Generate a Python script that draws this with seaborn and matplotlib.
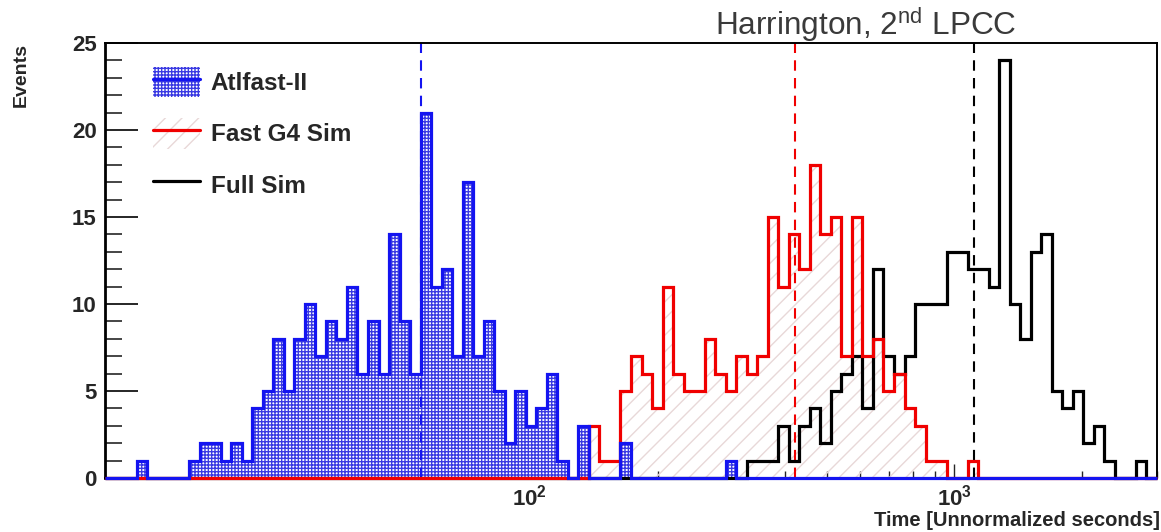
import numpy as np
import matplotlib
matplotlib.use("Agg")
import matplotlib.pyplot as plt
import seaborn as sns
from matplotlib.patches import Patch
from matplotlib.lines import Line2D
from matplotlib.ticker import LogLocator, NullFormatter, MultipleLocator

# ---------------- data ----------------
n_bins = 100
x_min, x_max = 10.0, 3000.0

atlfast = [0, 0, 0, 1, 0, 0, 0, 0, 1, 2,
           2, 1, 2, 1, 4, 5, 8, 5, 8, 10,
           7, 9, 8, 11, 6, 9, 6, 14, 9, 6,
           21, 11, 12, 7, 17, 7, 9, 5, 2, 5,
           3, 4, 6, 1, 0, 3, 0, 0, 0, 2,
           0, 0, 0, 0, 0, 0, 0, 0, 0, 1,
           0, 0, 0, 0, 0, 0, 0, 0, 0, 0,
           0, 0, 0, 0, 0, 0, 0, 0, 0, 0,
           0, 0, 0, 0, 0, 0, 0, 0, 0, 0,
           0, 0, 0, 0, 0, 0, 0, 0, 0, 0]

fastg4 = [0, 0, 0, 0, 0, 0, 0, 0, 0, 0,
          0, 0, 0, 0, 0, 0, 0, 0, 0, 0,
          0, 0, 0, 0, 0, 0, 0, 0, 0, 0,
          0, 0, 0, 0, 0, 0, 0, 0, 0, 0,
          0, 0, 0, 0, 0, 0, 3, 1, 1, 5,
          7, 6, 4, 11, 6, 5, 5, 8, 6, 5,
          7, 6, 7, 15, 11, 14, 12, 18, 14, 15,
          7, 15, 7, 8, 5, 6, 4, 3, 1, 1,
          0, 0, 1, 0, 0, 0, 0, 0, 0, 0,
          0, 0, 0, 0, 0, 0, 0, 0, 0, 0]

fullsim = [0, 0, 0, 0, 0, 0, 0, 0, 0, 0,
           0, 0, 0, 0, 0, 0, 0, 0, 0, 0,
           0, 0, 0, 0, 0, 0, 0, 0, 0, 0,
           0, 0, 0, 0, 0, 0, 0, 0, 0, 0,
           0, 0, 0, 0, 0, 0, 0, 0, 0, 0,
           0, 0, 0, 0, 0, 0, 0, 0, 0, 0,
           0, 1, 1, 1, 3, 1, 3, 4, 2, 5,
           6, 7, 4, 12, 7, 6, 7, 10, 10, 10,
           13, 13, 12, 12, 11, 24, 10, 8, 13, 14,
           5, 4, 5, 2, 3, 1, 0, 0, 1, 0]

series_names = ["Atlfast-II", "Fast G4 Sim", "Full Sim"]
series_means = [55.5, 422.0, 1110.0]
ytick_vals = [0, 5, 10, 15, 20, 25]
ytick_labels = ["0", "5", "10", "15", "20", "25"]
xtick_vals = [100, 1000]
xtick_labels = [r"$\mathbf{10^{2}}$", r"$\mathbf{10^{3}}$"]

# ---------------- style ----------------
sns.set_style("white")
plt.rcParams["font.family"] = ["Liberation Sans", "DejaVu Sans"]
plt.rcParams["mathtext.fontset"] = "custom"
plt.rcParams["mathtext.rm"] = "Liberation Sans"
plt.rcParams["mathtext.it"] = "Liberation Sans:italic"
plt.rcParams["mathtext.bf"] = "Liberation Sans:bold"
plt.rcParams["hatch.linewidth"] = 1.0

BLUE = "#1414f0"
RED = "#f00000"
BLACK = "#000000"
BLUE_HATCH = "#3a3ae2"
RED_HATCH = "#e8d8d8"

fig = plt.figure(figsize=(11.61, 5.32), dpi=100)
ax = fig.add_axes([105 / 1161, 54 / 532, 1052 / 1161, 435 / 532])

edges_log = list(np.linspace(np.log10(x_min), np.log10(x_max), n_bins + 1))
centers = 10 ** ((np.array(edges_log[:-1]) + np.array(edges_log[1:])) / 2)


def fill_hist(counts, face, hatch_color, hatch):
    sns.histplot(x=centers, weights=np.asarray(counts, float), bins=edges_log,
                 log_scale=True, element="step", fill=True, ax=ax,
                 color=hatch_color, linewidth=0)
    coll = ax.collections[-1]
    coll.set_alpha(None)
    coll.set_facecolor(face)
    coll.set_edgecolor(hatch_color)
    coll.set_linewidth(0)
    coll.set_hatch(hatch)
    coll.set_zorder(1)


def line_hist(counts, color, z):
    sns.histplot(x=centers, weights=np.asarray(counts, float), bins=edges_log,
                 log_scale=True, element="step", fill=False, ax=ax,
                 color=color, linewidth=2.3)
    ln = ax.lines[-1]
    ln.set_alpha(None)
    ln.set_color(color)
    ln.set_solid_joinstyle("miter")
    ln.set_solid_capstyle("butt")
    ln.set_clip_on(False)
    ln.set_zorder(z)


fill_hist(fastg4, "none", RED_HATCH, "//")
fill_hist(atlfast, "white", BLUE_HATCH, "+++++")

for m, c in zip(series_means, [BLUE, RED, BLACK]):
    ax.axvline(m, color=c, lw=1.5, ls=(0, (5, 3.5)), zorder=2)

line_hist(fullsim, BLACK, 3)
line_hist(fastg4, RED, 4)
line_hist(atlfast, BLUE, 5)

ax.set_xscale("log")
ax.set_xlim(x_min, x_max)
ax.set_ylim(0, 25)

ax.set_yticks(ytick_vals, labels=ytick_labels, fontweight="bold", fontsize=16)
ax.yaxis.set_minor_locator(MultipleLocator(1))
ax.set_xticks(xtick_vals, labels=xtick_labels, fontsize=16)
ax.xaxis.set_minor_locator(LogLocator(base=10, subs=np.arange(2, 10)))
ax.xaxis.set_minor_formatter(NullFormatter())

ax.tick_params(axis="y", which="major", direction="in", length=23.5, width=1.4,
               pad=6, left=True, right=False)
ax.tick_params(axis="y", which="minor", direction="in", length=12, width=1.2,
               left=True, right=False)
ax.tick_params(axis="x", which="major", direction="in", length=10, width=1.0,
               pad=4.5, bottom=True, top=False)
ax.tick_params(axis="x", which="minor", direction="in", length=5, width=1.0,
               bottom=True, top=False)

for s in ["top", "right", "bottom"]:
    ax.spines[s].set_linewidth(1.4)
    ax.spines[s].set_color("black")
ax.spines["left"].set_linewidth(2.0)
ax.spines["left"].set_color("black")

ax.set_ylabel("Events", loc="top", fontsize=14, fontweight="bold")
ax.yaxis.set_label_coords(-0.072, 1.0)
ax.set_xlabel("Time [Unnormalized seconds]", loc="right", fontsize=14.5,
              fontweight="bold")
ax.xaxis.set_label_coords(1.003, -0.076)

handles = [
    (Patch(facecolor="white", edgecolor=BLUE_HATCH, hatch="+++++", linewidth=0),
     Line2D([], [], color=BLUE, lw=2.3)),
    (Patch(facecolor="white", edgecolor=RED_HATCH, hatch="//", linewidth=0),
     Line2D([], [], color=RED, lw=2.3)),
    Line2D([], [], color=BLACK, lw=2.3),
]
ax.legend(handles, series_names, loc="upper left", bbox_to_anchor=(0.0456, 0.945),
          frameon=False, borderpad=0, borderaxespad=0, handlelength=1.93,
          handleheight=1.55, handletextpad=0.45, labelspacing=0.86,
          prop=dict(weight="bold", size=17.5))

fig.text(715 / 1161, 1 - 35 / 532, r"Harrington, 2$^{\mathrm{nd}}$ LPCC",
         ha="left", va="baseline", fontsize=22.7, color="#3a3a3a")

fig.savefig("out.png", dpi=100)
